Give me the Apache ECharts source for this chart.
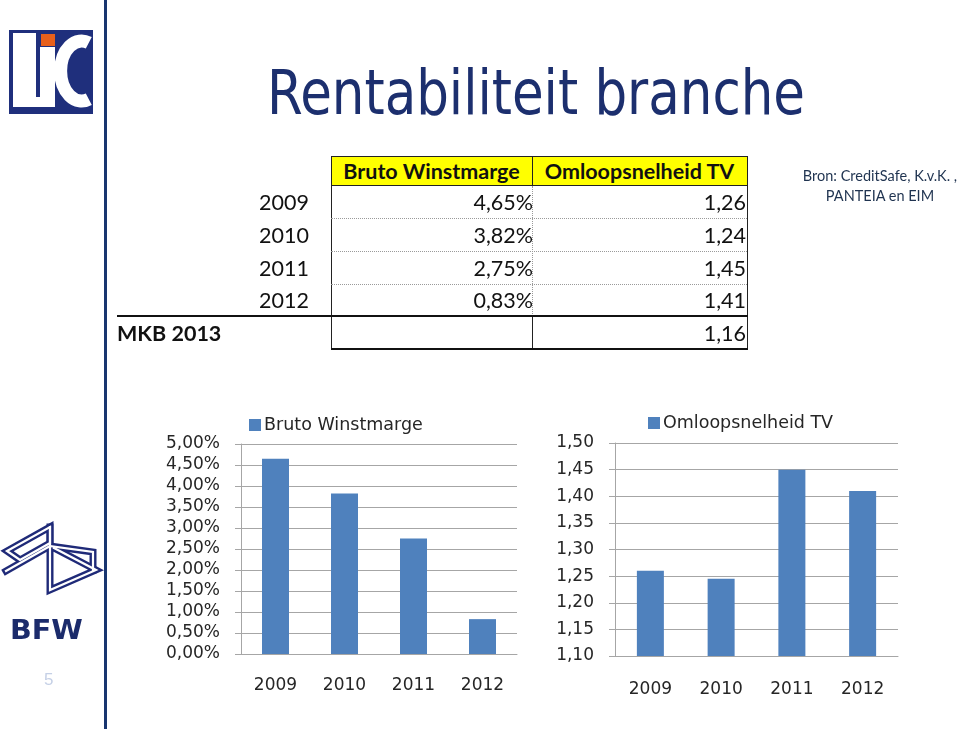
<!DOCTYPE html>
<html><head><meta charset="utf-8">
<script src="https://cdn.jsdelivr.net/npm/echarts@6/dist/echarts.min.js"></script>
<style>
html,body{margin:0;padding:0;width:959px;height:729px;background:#fff;overflow:hidden;}
#chart{position:absolute;left:0;top:0;width:959px;height:729px;}
.cell{position:absolute;display:flex;align-items:center;font-family:Lato,"Open Sans",sans-serif;font-size:21.5px;color:#111;box-sizing:border-box;white-space:nowrap;}
#title{position:absolute;left:267px;top:61px;font-family:"DejaVu Sans Condensed","DejaVu Sans",sans-serif;font-size:63px;line-height:63px;color:#1c2f6e;white-space:nowrap;transform-origin:0 0;}
</style></head><body>
<div id="chart"></div>
<div id="slide"></div>
<span id="title">Rentabiliteit branche</span>
<script>
// ---- data ----
const years = ['2009', '2010', '2011', '2012'];
const brutoWinstmarge = [4.65, 3.82, 2.75, 0.83];
const omloopsnelheid = [1.26, 1.245, 1.45, 1.41];
const tableBruto = ['4,65%', '3,82%', '2,75%', '0,83%'];
const tableOmloop = ['1,26', '1,24', '1,45', '1,41'];
const headers = ['Bruto Winstmarge', 'Omloopsnelheid TV'];
const mkbLabel = 'MKB 2013';
const mkbOmloop = '1,16';
const sourceLines = ['Bron: CreditSafe, K.v.K. ,', 'PANTEIA en EIM'];

// ---- slide decoration ----
const slide = document.getElementById('slide');
function el(tag, css, html) {
  const d = document.createElement(tag);
  d.style.cssText = css;
  if (html !== undefined) d.innerHTML = html;
  slide.appendChild(d);
  return d;
}
el('div', 'position:absolute;left:104px;top:0;width:3px;height:729px;background:#18356f;');
el('div', 'position:absolute;left:9px;top:30px;width:84px;height:84px;',
 '<svg width="84" height="84" viewBox="0 0 84 84">' +
 '<rect width="84" height="84" fill="#1f2f7c"/>' +
 '<path d="M4,3 H27 V67 H31 V17 H46 V77 H4 Z" fill="#fff"/>' +
 '<rect x="32" y="4" width="14" height="12" fill="#e8601c"/>' +
 '<path d="M79.8,12.8 A21,30 0 1 0 79.8,69.2" fill="none" stroke="#fff" stroke-width="13"/>' +
 '</svg>');
el('div', 'position:absolute;left:0;top:518px;width:104px;height:88px;',
 '<svg width="104" height="88" viewBox="0 0 104 88">' +
 '<g fill="none" stroke-linejoin="miter" stroke-linecap="square">' +
 '<g stroke="#1f2a78" stroke-width="7">' +
 '<path d="M7,33 L50,9 L50,25 L20,42 Z"/>' +
 '<path d="M6,53 L50,28"/>' +
 '<path d="M50,28 L93,34 L93,52"/>' +
 '<path d="M50,9 L50,72 L96,52 L54,30"/>' +
 '</g>' +
 '<g stroke="#fff" stroke-width="2.2">' +
 '<path d="M7,33 L50,9 L50,25 L20,42 Z"/>' +
 '<path d="M6,53 L50,28"/>' +
 '<path d="M50,28 L93,34 L93,52"/>' +
 '<path d="M50,9 L50,72 L96,52 L54,30"/>' +
 '</g></g></svg>');
el('div', 'position:absolute;left:10px;top:615px;font-family:"DejaVu Sans",sans-serif;font-weight:bold;font-size:26px;line-height:30px;color:#1b2b6b;transform:scaleX(1.1);transform-origin:0 0;', 'BFW');
el('div', 'position:absolute;left:44px;top:670px;font-family:"Liberation Sans",Arial,sans-serif;font-size:17px;line-height:20px;color:#c5d0e6;', '5');
el('div', 'position:absolute;left:789px;top:166px;width:182px;text-align:center;font-family:Lato,sans-serif;font-size:14.5px;line-height:20px;color:#1f3350;', sourceLines.join('<br>'));

// ---- table ----
const tL = 331, tM = 532, tR = 747;
const headTop = 156, headBot = 186;
const rowY = [186, 218, 251, 284, 316];
const mkbTop = 316, mkbBot = 349;
el('div', `position:absolute;left:${tL}px;top:${headTop}px;width:${tM - tL + 1}px;height:${headBot - headTop}px;background:#ffff00;border:1px solid #222;box-sizing:border-box;`);
el('div', `position:absolute;left:${tM}px;top:${headTop}px;width:${tR - tM + 1}px;height:${headBot - headTop}px;background:#ffff00;border:1px solid #222;box-sizing:border-box;`);
function cell(x, y, w, h, text, align, extra) {
  const d = document.createElement('div');
  d.className = 'cell';
  d.style.cssText += `left:${x}px;top:${y}px;width:${w}px;height:${h}px;justify-content:${align};` + (extra || '');
  d.textContent = text;
  slide.appendChild(d);
}
cell(tL, headTop, tM - tL, headBot - headTop, headers[0], 'center', 'font-weight:bold;');
cell(tM, headTop, tR - tM, headBot - headTop, headers[1], 'center', 'font-weight:bold;');
el('div', `position:absolute;left:${tL}px;top:${headBot}px;width:1px;height:${mkbBot - headBot}px;background:#222;`);
el('div', `position:absolute;left:${tR}px;top:${headBot}px;width:1px;height:${mkbBot - headBot}px;background:#222;`);
el('div', `position:absolute;left:${tM}px;top:${headBot}px;width:0;height:${mkbTop - headBot}px;border-left:1px dotted #9a9a9a;`);
el('div', `position:absolute;left:${tM}px;top:${mkbTop}px;width:1px;height:${mkbBot - mkbTop}px;background:#222;`);
for (let i = 1; i < 4; i++) {
  el('div', `position:absolute;left:${tL}px;top:${rowY[i]}px;width:${tR - tL}px;height:0;border-top:1px dotted #9a9a9a;`);
}
el('div', `position:absolute;left:117px;top:${mkbTop - 1}px;width:${tR - 117 + 1}px;height:2px;background:#111;`);
el('div', `position:absolute;left:${tL}px;top:${mkbBot - 1}px;width:${tR - tL + 1}px;height:2px;background:#111;`);
for (let i = 0; i < years.length; i++) {
  const y = rowY[i], h = rowY[i + 1] - rowY[i];
  cell(190, y, 119, h, years[i], 'flex-end');
  cell(tL, y, tM - tL + 1, h, tableBruto[i], 'flex-end');
  cell(tM, y, tR - tM - 1, h, tableOmloop[i], 'flex-end');
}
cell(117, mkbTop, 200, mkbBot - mkbTop, mkbLabel, 'flex-start', 'font-weight:bold;');
cell(tM, mkbTop, tR - tM - 1, mkbBot - mkbTop, mkbOmloop, 'flex-end');

function fitTitle() {
  const t = document.getElementById('title');
  t.style.transform = 'none';
  const w = t.getBoundingClientRect().width;
  t.style.transform = `scaleX(${538 / w})`;
}
fitTitle();
if (document.fonts && document.fonts.ready) document.fonts.ready.then(fitTitle);

// ---- charts ----
const axisGray = '#a6a6a6';
const labelColor = '#262626';
const fam = '"DejaVu Sans", sans-serif';
const barColor = '#4f81bd';
const fmtPct = v => v.toFixed(2).replace('.', ',') + '%';
const fmtDec = v => v.toFixed(2).replace('.', ',');
function xAx(gi, margin) {
  return {
    type: 'category', gridIndex: gi, data: years,
    axisLine: { lineStyle: { color: axisGray, width: 1 } },
    axisTick: { length: 6, lineStyle: { color: axisGray } },
    axisLabel: { margin, fontSize: 17, color: labelColor, fontFamily: fam }
  };
}
function yAx(gi, min, max, interval, fmt) {
  return {
    type: 'value', gridIndex: gi, min, max, interval,
    axisLine: { show: true, lineStyle: { color: axisGray } },
    axisTick: { show: true, length: 6, lineStyle: { color: axisGray } },
    splitLine: { lineStyle: { color: axisGray, width: 1 } },
    axisLabel: { margin: 21, fontSize: 17, color: labelColor, fontFamily: fam, formatter: fmt }
  };
}
function leg(name, left, top) {
  return {
    data: [name], left, top, icon: 'rect', itemWidth: 12, itemHeight: 12, itemGap: 0,
    textStyle: { fontSize: 17.5, color: labelColor, fontFamily: fam, padding: [0, 0, 0, -2] },
    selectedMode: false
  };
}
const chart = echarts.init(document.getElementById('chart'), null, { renderer: 'canvas' });
chart.setOption({
  animation: false,
  backgroundColor: 'transparent',
  legend: [leg(headers[0], 244, 411), leg(headers[1], 643, 409)],
  grid: [
    { left: 241, top: 444, width: 276, height: 210 },
    { left: 615, top: 443, width: 283, height: 213 }
  ],
  xAxis: [xAx(0, 23), xAx(1, 25)],
  yAxis: [yAx(0, 0, 5, 0.5, fmtPct), yAx(1, 1.1, 1.5, 0.05, fmtDec)],
  series: [
    { type: 'bar', name: headers[0], xAxisIndex: 0, yAxisIndex: 0, data: brutoWinstmarge, barWidth: 27, itemStyle: { color: barColor } },
    { type: 'bar', name: headers[1], xAxisIndex: 1, yAxisIndex: 1, data: omloopsnelheid, barWidth: 27, itemStyle: { color: barColor } }
  ]
});
</script>
</body></html>
